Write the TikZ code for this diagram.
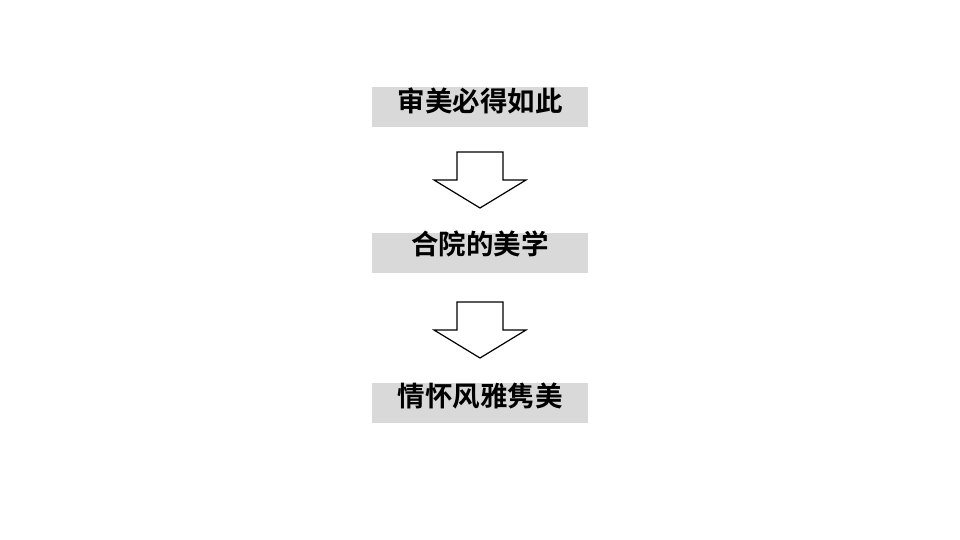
\documentclass[tikz,border=0pt]{standalone}
\usepackage{fontspec}
\newfontfamily\cjk{Noto Sans CJK SC Bold}
\definecolor{boxgray}{HTML}{D9D9D9}
\begin{document}
\begin{tikzpicture}[x=1pt,y=-1pt,
  graybox/.style={fill=boxgray,draw=none,minimum width=216pt,minimum height=40pt,inner sep=0pt,anchor=north west},
  label/.style={font=\cjk\fontsize{27.5pt}{30pt}\selectfont,text=black,inner sep=0pt},
  downarrow/.style={draw=black,line width=1.2pt,fill=white,line join=miter}]
\useasboundingbox (0,0) rectangle (960,540);
\fill[white] (0,0) rectangle (960,540);
% boxes
\node[graybox] (b1) at (372,87) {};
\node[graybox] (b2) at (372,233) {};
\node[graybox] (b3) at (372,383) {};
% labels
\node[label] (t1) at (480,101) {审美必得如此};
\node[label] (t2) at (480,244) {合院的美学};
\node[label] (t3) at (480,396) {情怀风雅隽美};
% arrows
\coordinate (a1) at (480,152);
\coordinate (a2) at (480,302);
\foreach \a in {a1,a2}{
  \draw[downarrow] ([xshift=-23pt]\a) -- ([xshift=23pt]\a) -- ([xshift=23pt,yshift=-28pt]\a)
    -- ([xshift=46pt,yshift=-28pt]\a) -- ([yshift=-56pt]\a) -- ([xshift=-46pt,yshift=-28pt]\a)
    -- ([xshift=-23pt,yshift=-28pt]\a) -- cycle;
}
\end{tikzpicture}
\end{document}
